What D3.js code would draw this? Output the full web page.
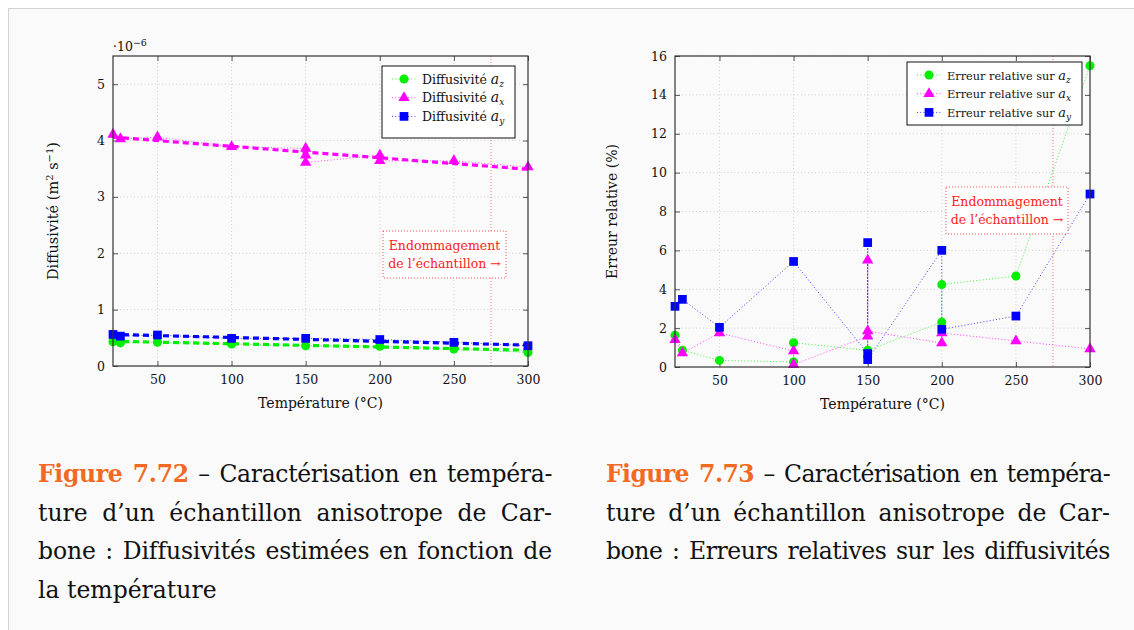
<!DOCTYPE html>
<html><head><meta charset="utf-8">
<script src="https://cdn.jsdelivr.net/npm/d3@7"></script>
<style>
html,body{margin:0;padding:0;background:#fff;}
svg{display:block;}
</style></head>
<body>
<svg id="c" width="1134" height="630"></svg>
<script>
// ---------- DATA ----------
// Figure 7.72 : diffusivities (x 1e-6 m2/s)
const azX = [20,25,50,100,150,200,250,300];
const azY = [0.43,0.41,0.42,0.39,0.36,0.35,0.30,0.24];
const axX = [20,25,50,100,150,150,150,200,200,250,300];
const axY = [4.11,4.03,4.06,3.89,3.86,3.74,3.61,3.74,3.64,3.64,3.53];
const ayX = [20,25,50,100,150,200,250,300];
const ayY = [0.56,0.53,0.55,0.49,0.49,0.47,0.42,0.36];
// trend lines (thick dashed)
const fitX = [20,300];
const azFit = [0.44,0.28];
const axFit = [4.06,3.49];
const ayFit = [0.56,0.37];
// Figure 7.73 : relative errors (%)
const ezX = [20,25,50,100,100,150,200,200,250,300];
const ezY = [1.63,0.86,0.34,0.26,1.25,0.86,2.31,4.24,4.68,15.5];
const exX = [20,25,50,100,100,150,150,150,200,200,250,300];
const exY = [1.40,0.72,1.75,0.82,0.12,1.58,5.49,1.85,1.23,1.75,1.34,0.93];
const eyX = [20,25,50,100,150,150,150,200,200,250,300];
const eyY = [3.12,3.48,2.04,5.43,0.69,6.40,0.38,6.00,1.94,2.62,8.90];
// ticks
const xTicks = [50,100,150,200,250,300];
const yTicksL = [0,1,2,3,4,5];
const yTicksR = [0,2,4,6,8,10,12,14,16];
const damageT = 275;
// text
const legendL = ["Diffusivité ", "Diffusivité ", "Diffusivité "];
const legendR = ["Erreur relative sur ", "Erreur relative sur ", "Erreur relative sur "];
const subs = ["z","x","y"];
const cap1 = [["Figure 7.72"," – Caractérisation en tempéra-"],["","ture d’un échantillon anisotrope de Car-"],["","bone : Diffusivités estimées en fonction de"],["","la température"]];
const cap2 = [["Figure 7.73"," – Caractérisation en tempéra-"],["","ture d’un échantillon anisotrope de Car-"],["","bone : Erreurs relatives sur les diffusivités"]];

// ---------- STYLE ----------
const GREEN="#00ee00", MAG="#ff00ff", BLUE="#0000ff", RED="#ff2020";
const FONT="DejaVu Serif";
const svg = d3.select("#c");
svg.append("rect").attr("width",1134).attr("height",630).attr("fill","#fff");
svg.append("rect").attr("x",8.5).attr("y",8.5).attr("width",1130).attr("height",625)
  .attr("fill","#fafafa").attr("stroke","#d2d2d2").attr("stroke-width",1);

const sym = {
  circle: d3.symbol().type(d3.symbolCircle).size(64),
  tri: d3.symbol().type(d3.symbolTriangle).size(56),
  sq: d3.symbol().type(d3.symbolSquare).size(76)
};

function chart(opt){
  const g = svg.append("g");
  const x = d3.scaleLinear().domain([20,300]).range([opt.x0,opt.x1]);
  const y = d3.scaleLinear().domain(opt.ydom).range([opt.y1,opt.y0]);
  const id = "clip"+opt.x0;
  svg.append("clipPath").attr("id",id).append("rect")
    .attr("x",opt.x0).attr("y",opt.y0).attr("width",opt.x1-opt.x0).attr("height",opt.y1-opt.y0);
  // grid
  g.append("g").selectAll("line").data(xTicks.filter(d=>d<300)).join("line")
    .attr("x1",d=>x(d)).attr("x2",d=>x(d)).attr("y1",opt.y0).attr("y2",opt.y1)
    .attr("stroke","#c8c8c8").attr("stroke-width",0.8).attr("stroke-dasharray","1,2.5");
  g.append("g").selectAll("line").data(opt.yticks.slice(1)).join("line")
    .attr("y1",d=>y(d)).attr("y2",d=>y(d)).attr("x1",opt.x0).attr("x2",opt.x1)
    .attr("stroke","#c8c8c8").attr("stroke-width",0.8).attr("stroke-dasharray","1,2.5");
  // damage line
  g.append("line").attr("x1",x(damageT)).attr("x2",x(damageT)).attr("y1",opt.y0).attr("y2",opt.y1)
    .attr("stroke",RED).attr("stroke-opacity",0.6).attr("stroke-width",1).attr("stroke-dasharray","1,2");
  // axes with d3
  const axB = d3.axisBottom(x).tickValues(xTicks).tickSize(-5).tickPadding(9).tickFormat(d3.format("d"));
  const axT = d3.axisTop(x).tickValues(xTicks).tickSize(-5).tickFormat("");
  const axL = d3.axisLeft(y).tickValues(opt.yticks).tickSize(-5).tickPadding(8).tickFormat(d3.format("d"));
  const axR = d3.axisRight(y).tickValues(opt.yticks).tickSize(-5).tickFormat("");
  const st = s=>{s.select(".domain").remove(); s.selectAll(".tick line").attr("stroke","#555");
     s.selectAll("text").attr("font-family",FONT).attr("font-size",12.5).attr("fill","#111");};
  g.append("g").attr("transform",`translate(0,${opt.y1})`).call(axB).call(st);
  g.append("g").attr("transform",`translate(0,${opt.y0})`).call(axT).call(st);
  g.append("g").attr("transform",`translate(${opt.x0},0)`).call(axL).call(st);
  g.append("g").attr("transform",`translate(${opt.x1},0)`).call(axR).call(st);
  // data
  const pg = g.append("g").attr("clip-path",`url(#${id})`);
  const line = d3.line().x(d=>x(d[0])).y(d=>y(d[1]));
  (opt.fits||[]).forEach(f=>{
    pg.append("path").attr("d",line(d3.zip(fitX,f.v))).attr("fill","none")
      .attr("stroke",f.c).attr("stroke-width",3.2).attr("stroke-dasharray","6,4");
  });
  opt.series.forEach(s=>{
    pg.append("path").attr("d",line(d3.zip(s.xs,s.ys))).attr("fill","none")
      .attr("stroke",s.c).attr("stroke-opacity",0.75).attr("stroke-width",1).attr("stroke-dasharray","1,2.2");
  });
  opt.series.forEach(s=>{
    g.append("g").selectAll("path").data(d3.zip(s.xs,s.ys)).join("path")
      .attr("d",sym[s.m]()).attr("transform",d=>`translate(${x(d[0])},${y(d[1])})`).attr("fill",s.c);
  });
  // frame
  g.append("rect").attr("x",opt.x0).attr("y",opt.y0).attr("width",opt.x1-opt.x0).attr("height",opt.y1-opt.y0)
    .attr("fill","none").attr("stroke","#333").attr("stroke-width",1.2);
  // axis titles
  g.append("text").attr("x",(opt.x0+opt.x1)/2).attr("y",opt.y1+42).attr("text-anchor","middle")
    .attr("font-family",FONT).attr("font-size",14).attr("fill","#111").text("Température (°C)");
  const yl = g.append("text").attr("transform",`translate(${opt.ylx},${(opt.y0+opt.y1)/2}) rotate(-90)`)
    .attr("text-anchor","middle").attr("font-family",FONT).attr("font-size",opt.ylfs).attr("fill","#111");
  opt.ylabel(yl);
  // annotation box
  const b = opt.box;
  g.append("rect").attr("x",b[0]).attr("y",b[1]).attr("width",b[2]-b[0]).attr("height",b[3]-b[1])
    .attr("fill","#fff").attr("stroke",RED).attr("stroke-opacity",0.8).attr("stroke-width",1).attr("stroke-dasharray","1,2");
  const cx=(b[0]+b[2])/2;
  g.append("text").attr("x",cx).attr("y",b[1]+19).attr("text-anchor","middle").attr("font-family",FONT)
    .attr("font-size",12.5).attr("fill",RED).text("Endommagement");
  g.append("text").attr("x",cx).attr("y",b[1]+37).attr("text-anchor","middle").attr("font-family",FONT)
    .attr("font-size",12.5).attr("fill",RED).text("de l’échantillon →");
  // legend
  const L = opt.legend;
  g.append("rect").attr("x",L[0]).attr("y",L[1]).attr("width",L[2]-L[0]).attr("height",L[3]-L[1])
    .attr("fill","#fff").attr("stroke","#111").attr("stroke-width",1);
  opt.series.forEach((s,i)=>{
    const ry = L[1]+13+i*18.7, mx = L[0]+22;
    g.append("line").attr("x1",mx-12).attr("x2",mx+12).attr("y1",ry).attr("y2",ry)
      .attr("stroke",s.c).attr("stroke-opacity",0.75).attr("stroke-dasharray","1,2.2");
    g.append("path").attr("d",sym[s.m]()).attr("transform",`translate(${mx},${ry})`).attr("fill",s.c);
    const t = g.append("text").attr("x",mx+18).attr("y",ry+4.5).attr("font-family",FONT)
      .attr("font-size",opt.lfs).attr("fill","#111");
    t.append("tspan").text(opt.ltext[i]);
    t.append("tspan").attr("font-style","italic").attr("font-size",opt.lfs+1.5).text("a");
    t.append("tspan").attr("font-style","italic").attr("font-size",9).attr("dy",3).text(subs[i]);
  });
  return {x,y,g};
}

const c1 = chart({x0:113,x1:528,y0:56,y1:366,ydom:[0,5.5],yticks:yTicksL,ylx:58,ylfs:14.5,lfs:12.5,
  series:[{xs:azX,ys:azY,c:GREEN,m:"circle"},{xs:axX,ys:axY,c:MAG,m:"tri"},{xs:ayX,ys:ayY,c:BLUE,m:"sq"}],
  fits:[{v:azFit,c:GREEN},{v:axFit,c:MAG},{v:ayFit,c:BLUE}],
  box:[383,231,506,278], legend:[382,66,515,138], ltext:legendL,
  ylabel:t=>{t.append("tspan").text("Diffusivité (m");
    t.append("tspan").attr("font-size",10).attr("dy",-5).text("2");
    t.append("tspan").attr("dy",5).text(" s");
    t.append("tspan").attr("font-size",10).attr("dy",-5).text("−1");
    t.append("tspan").attr("dy",5).text(")");}
});
// exponent label
const ex = svg.append("text").attr("x",113).attr("y",51).attr("font-family",FONT).attr("font-size",12.5).attr("fill","#111");
ex.append("tspan").text("·10");
ex.append("tspan").attr("font-size",9.5).attr("dy",-5).text("−6");

const c2 = chart({x0:675,x1:1090,y0:56,y1:367,ydom:[0,16],yticks:yTicksR,ylx:617,ylfs:14,lfs:11.3,
  series:[{xs:ezX,ys:ezY,c:GREEN,m:"circle"},{xs:exX,ys:exY,c:MAG,m:"tri"},{xs:eyX,ys:eyY,c:BLUE,m:"sq"}],
  box:[946,187,1068,234], legend:[907,62,1082,125], ltext:legendR,
  ylabel:t=>t.text("Erreur relative (%)")
});

// ---------- CAPTIONS ----------
function caption(lines, x0, x1, justifyLast){
  const target = x1-x0, minWS = 2.5;
  lines.forEach((ln,i)=>{
    const t = svg.append("text").attr("x",x0).attr("y",482+i*38.5)
      .attr("font-family",FONT).attr("font-size",23.5).attr("fill","#111");
    if(ln[0]) t.append("tspan").attr("font-weight","bold").attr("fill","#f26a21").text(ln[0]);
    t.append("tspan").text(ln[1]);
    const full = ln[0]+ln[1];
    const nsp = (full.match(/ /g)||[]).length;
    const last = i===lines.length-1;
    if(!last || justifyLast){
      let w = t.node().getComputedTextLength();
      if((target-w)/nsp < minWS){
        const ls = (target - w - minWS*nsp)/full.length;
        t.attr("letter-spacing",ls);
        w = t.node().getComputedTextLength();
      }
      t.attr("word-spacing",(target-w)/nsp);
    }
  });
}
caption(cap1,38,552,false);
caption(cap2,606,1110,true);
</script>
</body></html>
